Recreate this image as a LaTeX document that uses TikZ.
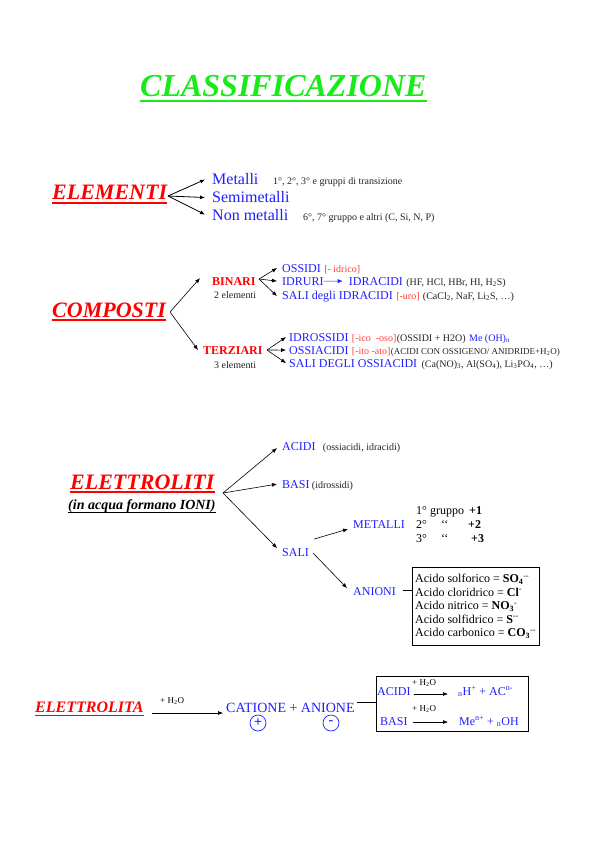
\documentclass[tikz,border=0pt]{standalone}
\usepackage{fontspec}
\setmainfont{Liberation Serif}
\usetikzlibrary{positioning}
\usetikzlibrary{calc}
\usetikzlibrary{arrows.meta}
\definecolor{verde}{RGB}{25,235,25}
\definecolor{rosso}{RGB}{255,0,0}
\definecolor{rosa}{RGB}{255,60,60}
\definecolor{blu}{RGB}{30,30,255}
\definecolor{grigio}{RGB}{35,35,35}
\newcommand{\fsz}[1]{\fontsize{#1}{#1}\selectfont}

\begin{document}
\begin{tikzpicture}[x=1pt, y=-1pt,
    every node/.style={inner sep=0pt, anchor=base west},
    titolo/.style={font=\fsz{22}\bfseries\itshape, text=rosso},
    elemento/.style={font=\fsz{16}, text=blu},
    voce/.style={font=\fsz{12}, text=blu},
    nota/.style={font=\fsz{10}, text=grigio},
    suff/.style={font=\fsz{10}, text=rosa},
    classe/.style={font=\fsz{12}\bfseries, text=rosso},
    acqua/.style={font=\fsz{9}, text=black},
    freccia/.style={-{Latex[length=5pt,width=4pt]}, line width=0.6pt},
    sottolinea/.style={line width=1.3pt}]
    \useasboundingbox (0,0) rectangle (596,842);

    \node[font=\fsz{32}\bfseries\itshape, text=verde] (titolo) at (140,97) {CLASSIFICAZIONE};
    \draw[verde, line width=2pt] ([yshift=-4pt]titolo.base west) -- ([yshift=-4pt]titolo.base east);

    \node[titolo] (elem) at (52,200) {ELEMENTI};
    \draw[rosso, sottolinea] ([yshift=-3pt]elem.base west) -- ([yshift=-3pt]elem.base east);
    \node[elemento] (met) at (212,185) {Metalli};
    \node[elemento] (semi) at (212,203) {Semimetalli};
    \node[elemento] (nonmet) at (212,220) {Non metalli};
    \node[nota] (metnota) at (273,185) {1°, 2°, 3° e gruppi di transizione};
    \node[nota] (nonnota) at (303,220) {6°, 7° gruppo e altri (C, Si, N, P)};
    \coordinate (fanEl) at (168,196);
    \draw[freccia, line width=0.8pt] (fanEl) -- ([xshift=-7pt]met.west);
    \draw[freccia, line width=0.8pt] (fanEl) -- ([xshift=-7pt]semi.west);
    \draw[freccia, line width=0.8pt] (fanEl) -- ([xshift=-7pt]nonmet.west);

    \node[titolo] (comp) at (52,317) {COMPOSTI};
    \draw[rosso, sottolinea] ([yshift=-3pt]comp.base west) -- ([yshift=-3pt]comp.base east);
    \coordinate (fanComp) at (170,312);
    \node[classe] (bin) at (212,285) {BINARI};
    \node[nota] (binn) at (214,298) {2 elementi};
    \node[classe] (ter) at (203,354) {TERZIARI};
    \node[nota] (tern) at (214,368) {3 elementi};
    \draw[freccia] (fanComp) -- ([shift={(-12pt,3pt)}]bin.west);
    \draw[freccia] (fanComp) -- ([xshift=-5pt]ter.west);

    \coordinate (fanBin) at (259,279);
    \node[voce] (oss) at (282,272) {OSSIDI};
    \node[suff] (ossS) at ([xshift=3pt]oss.base east) {[- idrico]};
    \node[voce] (idruri) at (282,285) {IDRURI};
    \node[voce] (idrac) at ([xshift=25pt]idruri.base east) {IDRACIDI};
    \node[nota] (idracN) at ([xshift=3pt]idrac.base east) {(HF, HCl, HBr, HI, H\textsubscript{2}S)};
    \node[voce] (sali1) at (282,299) {SALI degli IDRACIDI};
    \node[suff] (sali1S) at ([xshift=3pt]sali1.base east) {[-uro]};
    \node[nota] (sali1N) at ([xshift=3pt]sali1S.base east) {(CaCl\textsubscript{2}, NaF, Li\textsubscript{2}S, …)};
    \draw[freccia] (fanBin) -- ([xshift=-5pt]oss.west);
    \draw[freccia] (fanBin) -- ([xshift=-5pt]idruri.west);
    \draw[freccia] (fanBin) -- ([xshift=-5pt]sali1.west);
    \draw[freccia, blu] (idruri.east) -- ([xshift=-6pt]idrac.west);

    \coordinate (fanTer) at (267,350);
    \node[voce] (idross) at (289,341) {IDROSSIDI};
    \node[suff] (idrossS) at ([xshift=3pt]idross.base east) {[-ico\ \ -oso]};
    \node[nota] (idrossN) at (idrossS.base east) {(OSSIDI + H2O)};
    \node[voce, font=\fsz{10}] (idrossF) at ([xshift=3pt]idrossN.base east) {Me (OH)\textsubscript{n}};
    \node[voce] (ossiac) at (289,354) {OSSIACIDI};
    \node[suff] (ossiacS) at ([xshift=3pt]ossiac.base east) {[-ito -ato]};
    \node[nota, font=\fsz{9}] (ossiacN) at (ossiacS.base east) {(ACIDI CON OSSIGENO/ ANIDRIDE+H\textsubscript{2}O)};
    \node[voce] (sali2) at (289,367) {SALI DEGLI OSSIACIDI};
    \node[nota] (sali2N) at ([xshift=4pt]sali2.base east) {(Ca(NO)\textsubscript{3}, Al(SO\textsubscript{4}), Li\textsubscript{3}PO\textsubscript{4}, …)};
    \draw[freccia] (fanTer) -- ([xshift=-3pt]idross.west);
    \draw[freccia] (fanTer) -- ([xshift=-3pt]ossiac.west);
    \draw[freccia] (fanTer) -- ([xshift=-3pt]sali2.west);

    \node[titolo] (elet) at (70,489) {ELETTROLITI};
    \draw[rosso, sottolinea] ([yshift=-3pt]elet.base west) -- ([yshift=-3pt]elet.base east);
    \node[font=\fsz{14}\bfseries\itshape] (eletsub) at (68,509) {(in acqua formano IONI)};
    \draw[line width=0.9pt] ([yshift=-3pt]eletsub.base west) -- ([yshift=-3pt]eletsub.base east);
    \coordinate (fanElet) at (223,493);
    \node[voce] (acidi) at (282,450) {ACIDI};
    \node[nota] (acidiN) at ([xshift=7pt]acidi.base east) {(ossiacidi, idracidi)};
    \node[voce] (basi) at (282,488) {BASI};
    \node[nota] (basiN) at ([xshift=2pt]basi.base east) {(idrossidi)};
    \node[voce] (sali3) at (282,556) {SALI};
    \draw[freccia] (fanElet) -- ([shift={(-5pt,-2pt)}]acidi.west);
    \draw[freccia] (fanElet) -- ([xshift=-5pt]basi.west);
    \draw[freccia] (fanElet) -- ([shift={(-5pt,4pt)}]sali3.west);

    \node[voce] (metalli) at (353,528) {METALLI};
    \node[font=\fsz{12}] (g1) at (416,514) {1° gruppo};
    \node[font=\fsz{12}\bfseries] (v1) at (469,514) {+1};
    \node[font=\fsz{12}] (g2) at (416,528) {2°};
    \node[font=\fsz{12}] (q2) at (441,528) {‘‘};
    \node[font=\fsz{12}\bfseries] (v2) at (468,528) {+2};
    \node[font=\fsz{12}] (g3) at (416,542) {3°};
    \node[font=\fsz{12}] (q3) at (441,542) {‘‘};
    \node[font=\fsz{12}\bfseries] (v3) at (471,542) {+3};
    \draw[freccia] ([shift={(5pt,13pt)}]sali3.east) -- ([shift={(-5pt,-5pt)}]metalli.west);

    \node[voce] (anioni) at (353,595) {ANIONI};
    \node[draw, anchor=north west, align=left, inner xsep=3pt, inner ysep=7pt,
          font=\fontsize{12}{13.5}\selectfont] (anbox) at (412,567)
        {Acido solforico = \textbf{SO\textsubscript{4}}\textsuperscript{-{}-}\\
         Acido cloridrico = \textbf{Cl}\textsuperscript{-}\\
         Acido nitrico = \textbf{NO\textsubscript{3}}\textsuperscript{-}\\
         Acido solfidrico = \textbf{S}\textsuperscript{-{}-}\\
         Acido carbonico = \textbf{CO\textsubscript{3}}\textsuperscript{-{}-}};
    \draw[freccia] ([shift={(4pt,-1pt)}]sali3.east) -- ([shift={(-6pt,3pt)}]anioni.west);
    \draw ([shift={(7pt,1pt)}]anioni.east) -- ([yshift=1pt]anioni.east -| anbox.west);

    \node[titolo, font=\fsz{16}\bfseries\itshape] (elta) at (35,712) {ELETTROLITA};
    \draw[rosso, line width=1pt] ([yshift=-3pt]elta.base west) -- ([yshift=-3pt]elta.base east);
    \node[voce, font=\fsz{14}] (catan) at (226,712) {CATIONE + ANIONE};
    \node[acqua] (h2o1) at (160,703) {+ H\textsubscript{2}O};
    \draw[freccia] ([shift={(8pt,-1pt)}]elta.base east) -- ([shift={(-3pt,-1pt)}]catan.base west);
    \node[draw=blu, text=blu, circle, anchor=center, minimum size=16pt, line width=0.7pt,
          font=\fsz{14}\bfseries] (piu) at (258,723) {+};
    \node[draw=blu, text=blu, circle, anchor=center, minimum size=16pt, line width=0.7pt,
          font=\fsz{14}\bfseries] (meno) at (331,723) {-};

    \node[draw, anchor=north west, minimum width=152pt, minimum height=55pt] (reaz) at (376,676) {};
    \draw ([shift={(2pt,5pt)}]catan.east) -- ([yshift=5pt]catan.east -| reaz.west);
    \node[voce] (acidi2) at (377,695) {ACIDI};
    \node[voce] (basi2) at (380,725) {BASI};
    \node[voce] (prodA) at (458,695) {\textsubscript{n}H\textsuperscript{+} + AC\textsuperscript{n-}};
    \node[voce] (prodB) at (459,725) {Me\textsuperscript{n+} + \textsubscript{n}OH};
    \node[acqua] (h2o2) at (412,685) {+ H\textsubscript{2}O};
    \node[acqua] (h2o3) at (412,711) {+ H\textsubscript{2}O};
    \draw[freccia] ([shift={(3pt,1pt)}]acidi2.base east) -- ([shift={(-10pt,1pt)}]prodA.base west);
    \draw[freccia] ([shift={(5pt,3pt)}]basi2.base east) -- ([shift={(-11pt,3pt)}]prodB.base west);
\end{tikzpicture}
\end{document}
